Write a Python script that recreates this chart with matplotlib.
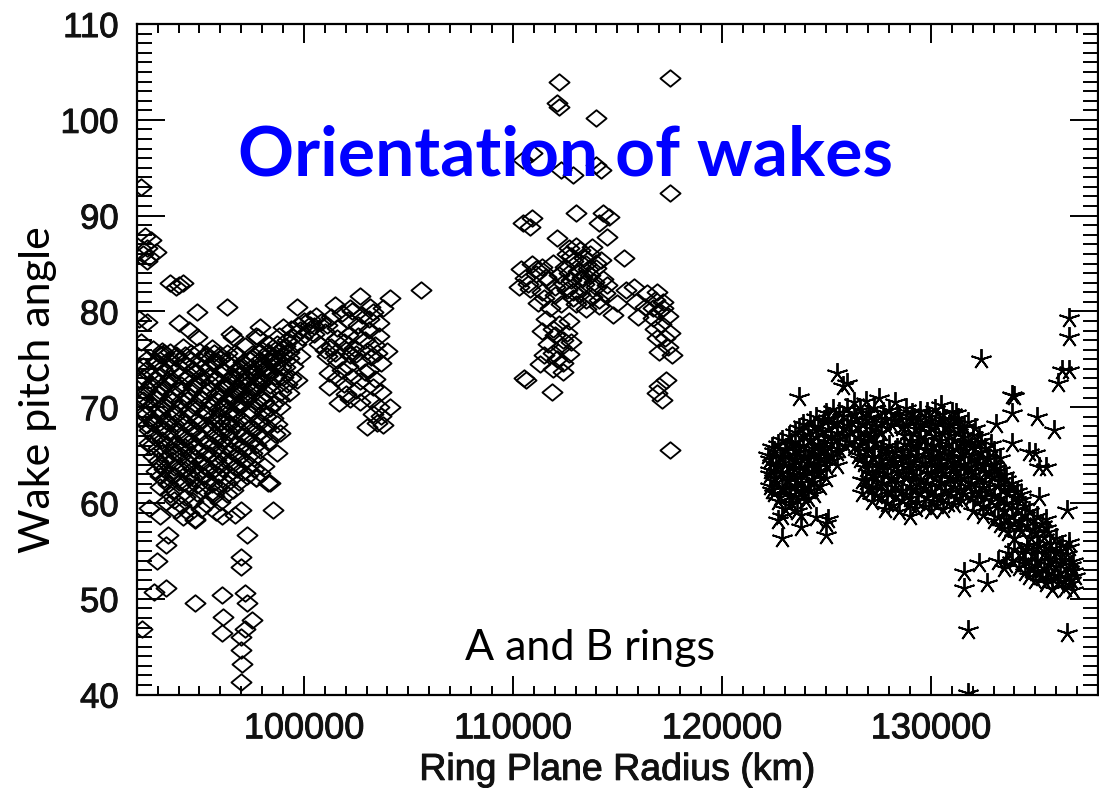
"""Wake pitch angle versus ring plane radius for the A and B rings."""
import numpy as np
import matplotlib
matplotlib.use("Agg")
import matplotlib.pyplot as plt
import matplotlib.patheffects as pe
from matplotlib.path import Path
from matplotlib.ticker import MultipleLocator, FixedLocator, FuncFormatter

# --- B ring (diamonds): (radius km, pitch angle deg) ---
b_ring_upper = [
    (92200, 93.0), (92400, 87.9), (92700, 87.5), (92500, 86.6), (92300, 86.0),
    (92600, 85.7), (92900, 86.2), (92500, 85.3), (93600, 83.0), (94000, 82.8),
    (94200, 83.0), (93900, 82.6), (92100, 79.2), (92500, 78.9), (94000, 78.8),
    (94500, 78.1), (94900, 77.3), (94900, 79.9), (96300, 80.5), (96600, 77.3),
    (96500, 77.6), (97900, 78.4), (97700, 77.4), (92200, 76.8), (93300, 75.7),
    (93200, 75.9), (94300, 75.4), (95700, 75.7), (105600, 82.2), (99660, 80.5),
]

b_ring_core = [
    (92800, 76.1), (93600, 75.8), (94200, 76.3), (95000, 75.9), (95600, 76.2),
    (96300, 75.7), (97200, 76.4), (98000, 76.0), (98700, 76.6),
    (92500, 75.0), (93100, 75.4), (93900, 75.1), (94600, 74.9), (95300, 75.3),
    (96000, 75.0), (96800, 75.4), (97500, 75.1), (98300, 75.4), (99000, 75.6),
    (92300, 74.3), (92900, 74.6), (93600, 74.2), (94300, 74.5), (95100, 74.1),
    (95700, 74.6), (96500, 74.3), (97200, 74.5), (97900, 74.2), (98600, 74.6),
    (92600, 73.5), (93300, 73.8), (94000, 73.4), (94800, 73.7), (95400, 73.3),
    (96200, 73.8), (96900, 73.5), (97600, 73.7), (98300, 73.4),
    (92200, 72.7), (92900, 72.9), (93700, 72.6), (94400, 73.0), (95100, 72.7),
    (95800, 72.9), (96600, 72.5), (97300, 72.9), (98000, 72.6), (98700, 72.9),
    (92500, 71.9), (93200, 72.2), (94000, 71.8), (94700, 72.1), (95500, 71.9),
    (96200, 72.2), (96900, 71.7), (97700, 72.0), (98400, 71.8),
    (92300, 71.1), (93000, 71.4), (93600, 71.0), (94400, 71.3), (95100, 71.0),
    (95800, 71.4), (96600, 71.1), (97300, 71.3), (98000, 71.0),
    (92600, 70.5), (93300, 70.2), (94100, 70.6), (94800, 70.3), (95500, 70.5),
    (96200, 70.2), (97000, 70.4), (97700, 70.6), (98500, 70.3),
    (92400, 69.5), (93000, 69.8), (93800, 69.4), (94500, 69.7), (95200, 69.5),
    (95900, 69.8), (96600, 69.4), (97400, 69.7), (98100, 69.5),
    (92700, 68.9), (93400, 68.6), (94100, 68.9), (94900, 68.7), (95600, 69.0),
    (96300, 68.6), (97000, 68.8), (97800, 68.6), (98500, 68.9),
    (92500, 68.1), (93100, 67.8), (93800, 68.2), (94600, 67.9), (95300, 68.1),
    (96000, 67.8), (96700, 68.2), (97400, 67.9), (98200, 68.0),
    (92800, 67.1), (93500, 67.4), (94200, 67.0), (94900, 67.3), (95700, 67.1),
    (96400, 67.4), (97100, 67.0), (97800, 67.3), (98600, 67.2),
    (92600, 66.3), (93200, 66.6), (93900, 66.2), (94600, 66.5), (95400, 66.3),
    (96100, 66.6), (96800, 66.2), (97500, 66.5), (98300, 66.4),
    (93000, 65.7), (93700, 65.4), (94300, 65.8), (95000, 65.5), (95800, 65.7),
    (96500, 65.4), (97200, 65.6), (97900, 65.5),
    (92800, 64.9), (93400, 64.6), (94100, 64.9), (94800, 64.7), (95500, 65.0),
    (96200, 64.6), (96900, 64.8), (97600, 64.7),
    (93100, 64.1), (93800, 63.8), (94500, 64.2), (95200, 63.9), (95900, 64.1),
    (96700, 63.8), (97400, 64.0), (98100, 63.9),
    (92900, 63.3), (93600, 63.0), (94300, 63.4), (95000, 63.1), (95600, 63.3),
    (96400, 63.0), (97100, 63.2), (97900, 63.1),
    (93300, 62.5), (94000, 62.2), (94700, 62.6), (95400, 62.3), (96100, 62.5),
    (96900, 62.2), (97700, 62.6), (98400, 62.1),
    (93100, 61.7), (93800, 61.4), (94500, 61.8), (95200, 61.5), (95900, 61.7),
    (96600, 61.4),
    (93600, 60.9), (94300, 60.6), (94900, 61.0), (95700, 60.7), (96300, 60.9),
    (93400, 60.1), (94100, 59.8), (94700, 60.2), (95300, 59.9), (96000, 60.1),
    (93900, 59.3), (94500, 59.0), (95100, 59.4), (95800, 59.1),
    (94200, 58.5), (94800, 58.3),
]

b_ring_core_fill = [
    (93200, 75.6), (93900, 75.5), (94600, 75.7), (95300, 75.6), (96000, 75.4),
    (96700, 75.7), (97500, 75.6), (98300, 75.8), (99000, 76.2),
    (92900, 74.8), (93500, 74.9), (94200, 74.7), (95000, 74.9), (95700, 74.8),
    (96400, 74.9), (97100, 74.7), (97900, 74.9), (98600, 75.0), (99300, 75.1),
    (92500, 74.0), (93200, 74.1), (93900, 73.9), (94700, 74.0), (95400, 74.1),
    (96100, 73.9), (96800, 74.0), (97500, 74.2), (98200, 74.0), (98900, 74.2),
    (92300, 73.2), (93000, 73.3), (93600, 73.1), (94400, 73.2), (95100, 73.3),
    (95800, 73.1), (96500, 73.2), (97200, 73.3), (97900, 73.1), (98600, 73.3),
    (92700, 72.4), (93400, 72.5), (94100, 72.3), (94800, 72.4), (95500, 72.5),
    (96300, 72.3), (97000, 72.4), (97700, 72.5), (98400, 72.3),
    (92400, 71.6), (93100, 71.7), (93800, 71.5), (94600, 71.6), (95300, 71.7),
    (96000, 71.5), (96700, 71.6), (97500, 71.7), (98200, 71.5),
    (92300, 70.8), (92900, 70.9), (93700, 70.7), (94400, 70.8), (95100, 70.9),
    (95900, 70.7), (96600, 70.8), (97300, 70.9), (98100, 70.7), (98800, 70.9),
    (92600, 70.0), (93300, 70.1), (94000, 69.9), (94800, 70.0), (95500, 70.1),
    (96200, 69.9), (96900, 70.0), (97700, 70.1), (98400, 69.9),
    (92400, 69.2), (93100, 69.3), (93800, 69.1), (94500, 69.2), (95300, 69.3),
    (96000, 69.1), (96700, 69.2), (97400, 69.3), (98200, 69.1),
    (92800, 68.4), (93500, 68.5), (94300, 68.3), (95000, 68.4), (95700, 68.5),
    (96400, 68.3), (97200, 68.4), (97900, 68.5), (98700, 68.3),
    (92600, 67.6), (93300, 67.7), (94000, 67.5), (94700, 67.6), (95500, 67.7),
    (96200, 67.5), (96900, 67.6), (97600, 67.7),
    (92900, 66.8), (93600, 66.9), (94300, 66.7), (95100, 66.8), (95800, 66.9),
    (96500, 66.7), (97300, 66.8), (98000, 66.9),
    (92700, 66.0), (93400, 66.1), (94100, 65.9), (94800, 66.0), (95600, 66.1),
    (96300, 65.9), (97000, 66.0), (97700, 66.1),
    (93200, 65.2), (93900, 65.3), (94600, 65.1), (95300, 65.2), (96000, 65.3),
    (96800, 65.1), (97500, 65.2),
    (93000, 64.4), (93700, 64.5), (94400, 64.3), (95100, 64.4), (95800, 64.5),
    (96500, 64.3), (97200, 64.4),
    (93300, 63.6), (94000, 63.7), (94700, 63.5), (95400, 63.6), (96100, 63.7),
    (96800, 63.5), (97600, 63.6),
    (93100, 62.8), (93800, 62.9), (94500, 62.7), (95200, 62.8), (95900, 62.9),
    (96600, 62.7), (97300, 62.8),
    (93500, 62.0), (94200, 62.1), (94900, 61.9), (95600, 62.0), (96300, 62.1),
]

b_ring_band = [
    (96000, 68.5), (96400, 69.5), (96800, 70.3), (97200, 71.0), (97500, 72.0),
    (97900, 72.6), (98200, 73.5), (98600, 74.3), (98900, 75.1), (99300, 75.8),
    (99600, 76.6), (99900, 77.3), (100200, 78.0), (100500, 78.5), (100000, 79.0),
    (99400, 78.2), (98800, 77.4), (98300, 76.6), (97900, 75.8), (97400, 74.9),
    (97000, 74.1), (96600, 73.3), (96200, 72.3), (99000, 78.4), (99700, 78.6),
    (98600, 76.0), (98000, 74.4), (97600, 73.6), (97100, 72.7), (96700, 71.8),
    (99200, 77.0), (98500, 75.3), (97800, 77.3), (98850, 70.0), (98850, 67.3),
    (98700, 65.2), (99000, 73.2), (99660, 72.8), (99300, 71.5), (99500, 74.3),
    (99800, 75.3), (96300, 70.8), (96900, 71.4), (97300, 72.3), (97700, 73.2),
    (98100, 74.0), (98400, 74.8), (98800, 75.8), (99100, 76.4), (99500, 77.3),
    (99800, 78.1), (100300, 79.2), (99100, 74.2), (99400, 73.1), (99200, 72.4),
    (98900, 71.6),
]

b_ring_lobe = [
    (100300, 78.6), (100800, 78.9), (101300, 79.4), (101800, 79.8), (102300, 80.0),
    (102800, 79.6), (103300, 79.9), (103800, 80.4), (102700, 81.6), (104100, 81.4),
    (101500, 80.7), (102200, 80.4), (103150, 80.5),
    (100500, 77.6), (101000, 77.9), (101600, 78.3), (102100, 77.5), (102600, 78.6),
    (103100, 78.1), (103600, 77.4),
    (100700, 76.6), (101300, 76.3), (101900, 76.8), (102400, 76.2), (102900, 77.0),
    (103400, 76.5), (104000, 75.9),
    (101100, 75.3), (101600, 74.9), (102200, 75.4), (102700, 74.8), (103200, 75.2),
    (103700, 74.6),
    (101200, 73.6), (101800, 73.9), (102300, 73.2), (102900, 73.7), (103400, 72.9),
    (101200, 72.1), (101900, 72.4), (102500, 71.8), (103300, 72.1), (103700, 71.6),
    (101700, 70.4), (102200, 70.9), (103200, 70.8), (103600, 70.0), (104100, 70.0),
    (103000, 67.9), (103800, 68.1), (103500, 68.4),
    (100600, 79.5), (101100, 78.6), (101600, 77.2), (102100, 79.1), (102600, 77.4),
    (103100, 79.2), (103600, 78.8), (101000, 76.0), (101500, 75.7), (102000, 76.0),
    (102500, 75.6), (103000, 75.9), (103500, 75.7), (101600, 73.0), (102100, 74.3),
    (102700, 72.7), (103100, 73.9), (102000, 71.4), (102700, 70.5), (103700, 69.1),
    (103300, 69.3),
]

b_ring_low = [
    (92600, 59.5), (93100, 58.6), (93800, 60.3), (94800, 58.2), (95700, 61.0),
    (96100, 58.6), (96700, 58.7), (97300, 56.7), (97000, 59.3), (97700, 62.6),
    (98300, 62.1), (98500, 59.3), (93500, 56.7), (93400, 55.6), (92950, 53.9),
    (97000, 54.4), (97000, 53.3), (92850, 50.7), (93400, 51.1), (94800, 49.6),
    (96100, 50.4), (97200, 50.6), (97300, 49.6), (96150, 48.1), (97500, 47.8),
    (92250, 46.9), (96100, 46.4), (97000, 46.0), (97000, 44.7), (97050, 43.2),
    (97000, 41.3), (97200, 46.9),
]

b_outer_high = [
    (112200, 103.9), (117500, 104.4), (112200, 101.3), (112100, 101.8),
    (114000, 100.2), (110900, 96.5), (110500, 95.8), (112300, 94.8),
    (112900, 94.2), (114000, 95.3), (114200, 94.8), (117500, 92.4),
    (110500, 89.2), (110900, 89.8), (110800, 88.8), (113000, 90.3),
    (114300, 90.3), (114600, 89.9), (114100, 89.2), (114500, 87.8),
    (112100, 87.7), (112700, 86.6), (115300, 85.6),
]

b_outer_core = [
    (112600, 86.0), (113200, 86.4), (113700, 86.0), (114200, 85.4), (112900, 85.3),
    (113500, 85.0), (114000, 84.5), (112500, 84.6), (113100, 84.2), (113700, 83.8),
    (114300, 83.4), (112800, 83.3), (113400, 82.9), (114000, 82.5), (112600, 82.2),
    (113200, 81.8), (113800, 81.5), (114400, 81.9), (113000, 80.8), (113500, 80.3),
    (114100, 80.6), (113300, 83.6), (112900, 82.0),
    (112800, 85.8), (113400, 85.6), (114000, 85.1), (112700, 84.0), (113300, 83.4),
    (113900, 83.1), (114500, 82.8), (112900, 81.4), (113500, 81.2), (114100, 81.2),
    (113600, 84.4), (112400, 83.0), (113800, 86.7), (113000, 86.8),
    (110400, 84.4), (110900, 84.9), (111400, 84.6), (111900, 85.1), (110600, 83.5),
    (111100, 83.9), (111700, 83.3), (112200, 83.8), (110300, 82.6), (110800, 82.3),
    (111400, 82.0), (112000, 81.7), (111200, 80.9), (111800, 80.4), (112300, 80.8),
    (111100, 84.4), (111600, 83.6), (110700, 82.9), (112000, 82.6), (111500, 81.4),
    (111600, 79.2), (112200, 78.7), (112700, 79.0), (111400, 78.0), (112000, 77.5),
    (112600, 77.8), (111700, 76.6), (112300, 76.3), (112800, 76.8), (111500, 75.4),
    (112100, 75.0), (112700, 75.6), (111900, 74.0), (112400, 73.7), (111300, 74.5),
    (111900, 78.2), (112400, 77.0), (111900, 75.7), (112400, 74.6),
    (110650, 72.8), (110550, 73.0), (111850, 71.6),
    (115000, 80.9), (115400, 82.2), (114800, 79.6),
    (116000, 79.4), (116400, 81.9), (115800, 82.6), (116300, 80.5), (116800, 81.2),
    (117200, 80.4), (116700, 79.3), (117100, 78.7), (117500, 77.8), (116900, 77.2),
    (117400, 76.3), (117000, 75.8), (117600, 75.5), (116900, 82.0), (117400, 79.5),
    (115900, 81.0), (116700, 80.4), (117000, 80.0), (117300, 77.2), (116800, 78.2),
    (117200, 81.0),
    (117350, 72.8), (116900, 71.5), (117150, 70.8), (117000, 72.2), (117500, 65.5),
]

# --- A ring (asterisks) ---
a_ring_main = [
    (125500, 73.6), (126000, 72.5), (125800, 72.2), (123700, 71.1), (127500, 71.0),
    (126300, 70.5), (126900, 70.6), (128300, 70.5), (130500, 70.2),
    (125300, 69.8), (126000, 69.9), (126600, 69.7), (127300, 69.9), (128000, 69.7),
    (128800, 69.9), (129500, 69.6), (130200, 69.8), (131000, 69.5),
    (124500, 69.0), (125100, 68.9), (125800, 69.1), (126400, 68.9), (127100, 69.0),
    (127800, 68.8), (128500, 69.1), (129200, 68.9), (129900, 69.0), (130600, 68.8),
    (131300, 68.9),
    (123900, 68.2), (124600, 68.0), (125300, 68.3), (126000, 68.1), (126700, 68.3),
    (127400, 68.0), (128100, 68.2), (128800, 68.0), (129500, 68.3), (130200, 68.1),
    (130900, 68.2), (131600, 67.9),
    (123500, 67.4), (124100, 67.2), (124800, 67.5), (125500, 67.3), (126200, 67.5),
    (126900, 67.2), (127600, 67.4), (129200, 67.3), (129900, 67.5), (130600, 67.2),
    (131300, 67.4), (132000, 67.1),
    (122900, 66.6), (123500, 66.4), (124200, 66.7), (124900, 66.5), (125500, 66.7),
    (126100, 66.4), (126800, 66.6), (127400, 66.4), (129000, 66.5), (129700, 66.7),
    (130400, 66.5), (131100, 66.6), (131800, 66.3), (132400, 66.5),
    (122400, 65.8), (123000, 65.6), (123700, 65.9), (124300, 65.7), (124900, 65.9),
    (125600, 65.6), (126300, 65.8), (127000, 65.6), (127700, 65.9), (128400, 65.7),
    (129100, 65.9), (129800, 65.6), (130500, 65.8), (131200, 65.6), (131900, 65.9),
    (132600, 65.7),
    (122200, 65.0), (122800, 64.8), (123400, 65.1), (124000, 64.9), (124600, 65.1),
    (125200, 64.8), (126500, 65.0), (127200, 64.8), (127900, 65.1), (128600, 64.9),
    (129300, 65.0), (130000, 64.8), (130700, 65.1), (131400, 64.9), (132000, 65.0),
    (132700, 64.8),
    (122400, 64.2), (123000, 64.0), (123600, 64.3), (124200, 64.1), (124900, 64.3),
    (125500, 64.0), (126800, 64.2), (127500, 64.0), (128200, 64.3), (128900, 64.1),
    (129600, 64.2), (130300, 64.0), (131000, 64.3), (131600, 64.1), (132300, 64.2),
    (133000, 64.0),
    (122300, 63.4), (122900, 63.2), (123500, 63.5), (124100, 63.3), (124700, 63.4),
    (127000, 63.2), (127700, 63.5), (128400, 63.3), (129100, 63.4), (129800, 63.2),
    (130500, 63.5), (131200, 63.3), (131900, 63.4), (132600, 63.2), (133300, 63.4),
    (122500, 62.6), (123100, 62.4), (123700, 62.7), (124300, 62.5), (125000, 62.6),
    (126700, 62.4), (127400, 62.7), (128100, 62.5), (128800, 62.6), (129500, 62.4),
    (130200, 62.7), (130900, 62.5), (131600, 62.6), (132300, 62.4), (133000, 62.7),
    (133600, 62.5),
    (122300, 61.8), (122900, 61.6), (123500, 61.9), (124100, 61.7), (124700, 61.8),
    (127000, 61.6), (127600, 61.9), (128300, 61.7), (129000, 61.8), (129700, 61.6),
    (130400, 61.9), (131100, 61.7), (131800, 61.8), (132500, 61.6), (133200, 61.9),
    (133900, 61.7),
    (122500, 61.0), (123200, 60.8), (123800, 61.1), (124400, 60.9), (126700, 61.0),
    (127400, 60.8), (128100, 61.1), (128800, 60.9), (129500, 61.0), (130200, 60.8),
    (130900, 61.1), (131600, 60.9), (132300, 61.0), (133000, 60.8), (133700, 61.1),
    (134300, 60.9),
    (122700, 60.2), (123300, 60.0), (124000, 60.3), (127200, 60.2), (127900, 60.0),
    (128600, 60.3), (129400, 60.1), (130100, 60.2), (130800, 60.0), (131500, 60.3),
    (132200, 60.1), (132900, 60.2), (133600, 60.0), (134300, 60.3),
    (123000, 59.4), (123600, 59.2), (127800, 59.4), (128500, 59.2), (129300, 59.5),
    (130000, 59.3), (130600, 59.4), (132000, 59.2), (132800, 59.5), (133500, 59.3),
    (134100, 59.4), (134700, 59.2),
    (122900, 58.6), (123800, 58.7), (124500, 58.5), (129000, 58.6), (132500, 58.7),
    (133200, 58.5), (133900, 58.6), (134500, 58.8), (135100, 58.6),
    (122700, 58.2), (123800, 57.5), (125000, 57.9), (125100, 58.3), (133300, 57.8),
    (134000, 57.9), (134600, 57.7), (135300, 57.8),
    (133700, 57.0), (134300, 57.1), (135000, 56.9), (135600, 57.0),
    (122900, 56.4), (125000, 56.7), (134000, 56.4), (134800, 56.3), (135400, 56.5),
    (136000, 56.3),
]

a_ring_fill = [
    (125000, 69.4), (125600, 69.5), (126300, 69.3), (127000, 69.4), (127700, 69.5),
    (128400, 69.3), (129100, 69.4), (129800, 69.5), (130600, 69.3), (131200, 69.4),
    (124200, 68.6), (124900, 68.7), (125500, 68.5), (126200, 68.6), (126900, 68.7),
    (127600, 68.5), (128300, 68.6), (129000, 68.7), (129700, 68.5), (130400, 68.6),
    (131100, 68.7), (131800, 68.5),
    (123700, 67.8), (124400, 67.9), (125100, 67.7), (125800, 67.8), (126500, 67.9),
    (127200, 67.7), (127900, 67.8), (128600, 67.9), (129300, 67.7), (130000, 67.8),
    (130700, 67.9), (131400, 67.7), (132100, 67.8),
    (123200, 67.0), (123900, 67.1), (124500, 66.9), (125200, 67.0), (125800, 67.1),
    (126500, 66.9), (127100, 67.0), (128700, 67.1), (129500, 66.9), (130200, 67.0),
    (130900, 67.1), (131600, 66.9), (132300, 67.0),
    (122700, 66.2), (123300, 66.3), (123900, 66.1), (124600, 66.2), (125200, 66.3),
    (125900, 66.1), (126600, 66.2), (127300, 66.3), (128000, 66.1), (128700, 66.2),
    (129400, 66.3), (130100, 66.1), (130800, 66.2), (131500, 66.3), (132200, 66.1),
    (132900, 66.2),
    (122500, 65.4), (123100, 65.5), (123700, 65.3), (124300, 65.4), (124900, 65.5),
    (125500, 65.3), (126900, 65.4), (127600, 65.5), (128300, 65.3), (129000, 65.4),
    (129700, 65.5), (130400, 65.3), (131000, 65.4), (131700, 65.5), (132400, 65.3),
    (133000, 65.4),
    (122300, 64.6), (122900, 64.7), (123500, 64.5), (124100, 64.6), (124700, 64.7),
    (125300, 64.5), (126600, 64.6), (127300, 64.7), (128000, 64.5), (128700, 64.6),
    (129400, 64.7), (130100, 64.5), (130800, 64.6), (131500, 64.7), (132200, 64.5),
    (132800, 64.6), (133300, 64.7),
    (122600, 63.8), (123200, 63.9), (123800, 63.7), (124400, 63.8), (125000, 63.9),
    (126900, 63.7), (127600, 63.8), (128300, 63.9), (129000, 63.7), (129700, 63.8),
    (130400, 63.9), (131100, 63.7), (131800, 63.8), (132500, 63.9), (133100, 63.7),
    (122300, 63.0), (122800, 63.1), (123400, 62.9), (124000, 63.0), (124600, 63.1),
    (127200, 62.9), (127900, 63.0), (128600, 63.1), (129300, 62.9), (130000, 63.0),
    (130700, 63.1), (131400, 62.9), (132100, 63.0), (132800, 63.1), (133500, 62.9),
    (122600, 62.2), (123200, 62.3), (123800, 62.1), (124400, 62.2), (126900, 62.3),
    (127700, 62.1), (128400, 62.2), (129100, 62.3), (129800, 62.1), (130500, 62.2),
    (131200, 62.3), (131900, 62.1), (132600, 62.2), (133300, 62.3), (133900, 62.1),
    (122400, 61.4), (123000, 61.5), (123600, 61.3), (124200, 61.4), (127200, 61.5),
    (127900, 61.3), (128600, 61.4), (129300, 61.5), (130000, 61.3), (130700, 61.4),
    (131400, 61.5), (132100, 61.3), (132800, 61.4), (133500, 61.5), (134100, 61.3),
    (122800, 60.6), (123500, 60.7), (124100, 60.5), (127600, 60.6), (128300, 60.7),
    (129000, 60.5), (129800, 60.6), (130500, 60.7), (131200, 60.5), (131900, 60.6),
    (132600, 60.7), (133300, 60.5), (134000, 60.6),
    (123200, 59.8), (128200, 59.8), (129000, 59.9), (129700, 59.7), (130300, 59.8),
    (131100, 59.9), (132500, 59.7), (133200, 59.8), (133900, 59.9), (134500, 59.7),
    (133000, 58.2), (133600, 58.3), (134300, 58.1), (134900, 58.2), (135500, 58.3),
    (133500, 57.4), (134200, 57.5), (134900, 57.3), (135500, 57.4),
]

a_ring_tail = [
    (134600, 55.6), (135200, 55.5), (135700, 55.7), (136300, 55.6), (136600, 55.4),
    (133700, 54.8), (134300, 54.9), (134900, 54.7), (135400, 54.8), (136000, 54.9),
    (136500, 54.7),
    (132300, 53.7), (133200, 54.0), (133900, 54.1), (134500, 53.9), (135100, 54.0),
    (135700, 53.9), (136300, 54.1), (136800, 53.9),
    (131600, 52.8), (133500, 53.2), (134200, 53.3), (134800, 53.1), (135400, 53.2),
    (136000, 53.3), (136600, 53.1),
    (134700, 52.4), (135300, 52.3), (135900, 52.5), (136500, 52.3), (136900, 52.4),
    (131600, 51.1), (132700, 51.6), (135500, 51.6), (136100, 51.7), (136600, 51.5),
    (135800, 51.0), (136400, 51.1), (136800, 50.9),
    (134000, 55.2), (134600, 55.1), (135100, 55.3), (135700, 55.2), (136200, 55.1),
    (133600, 53.6), (134400, 53.7), (135000, 53.5), (135600, 53.6), (136200, 53.7),
    (136700, 53.5), (134500, 52.8), (135100, 52.9), (135600, 52.7), (136200, 52.8),
    (136800, 52.9), (135000, 52.0), (135600, 52.1), (136200, 51.9), (136700, 52.0),
]

a_ring_outliers = [
    (131800, 46.7), (136500, 46.4), (131800, 40.2), (136500, 59.3), (136600, 55.9),
    (135200, 60.6), (135900, 67.6), (134700, 65.3), (135200, 63.8), (132400, 75.0),
    (133900, 71.3), (136600, 73.9), (136100, 72.5), (136300, 73.9), (136600, 79.3),
    (136600, 77.3), (134000, 71.2), (133900, 69.4), (133100, 68.2), (135100, 69.0),
    (133900, 66.3), (135000, 65.2), (135500, 63.8),
]

x_major = [100000, 110000, 120000, 130000]
y_major = [40, 50, 60, 70, 80, 90, 100, 110]

INK = "#000000"
# slightly heavier axis lettering
HEAVY = [pe.withStroke(linewidth=0.7, foreground="#111111")]


def main():
    plt.rcParams["font.family"] = ["Liberation Sans", "DejaVu Sans"]

    fig = plt.figure(figsize=(10.99, 7.88), dpi=100)
    ax = fig.add_axes([0.1244, 0.1185, 0.8747, 0.8510])

    # IDL-style diamond, a little wider than tall
    diamond = Path([(0, 0.82), (1, 0), (0, -0.82), (-1, 0), (0, 0.82)],
                   [Path.MOVETO, Path.LINETO, Path.LINETO, Path.LINETO, Path.CLOSEPOLY])

    b_pts = np.array(b_ring_upper + b_ring_core + b_ring_core_fill + b_ring_band
                     + b_ring_lobe + b_ring_low + b_outer_high + b_outer_core,
                     dtype=float)
    a_pts = np.array(a_ring_main + a_ring_fill + a_ring_tail + a_ring_outliers,
                     dtype=float)

    ax.plot(b_pts[:, 0], b_pts[:, 1], ls="none", marker=diamond, ms=14.5,
            mfc="none", mec=INK, mew=1.35)
    ax.plot(a_pts[:, 0], a_pts[:, 1], ls="none", marker=(5, 2, 0), ms=15,
            mec=INK, mew=1.35)

    ax.set_xlim(92000, 138000)
    ax.set_ylim(40, 110)
    ax.xaxis.set_major_locator(FixedLocator(x_major))
    ax.xaxis.set_minor_locator(MultipleLocator(1000))
    ax.yaxis.set_major_locator(FixedLocator(y_major))
    ax.yaxis.set_minor_locator(MultipleLocator(1))
    ax.xaxis.set_major_formatter(FuncFormatter(lambda v, p: f"{int(v)}"))

    ax.tick_params(which="both", direction="in", top=True, right=True,
                   width=1.4, color=INK, labelcolor="#111111")
    ax.tick_params(axis="x", which="major", length=13.5, labelsize=26, pad=12)
    ax.tick_params(axis="x", which="minor", length=6.5)
    ax.tick_params(axis="y", which="major", length=20, labelsize=25, pad=13)
    ax.tick_params(axis="y", which="minor", length=10.5)
    for s in ax.spines.values():
        s.set_linewidth(1.6)
        s.set_color(INK)

    xl = ax.set_xlabel("Ring Plane Radius (km)", fontsize=27, color="#111111",
                       labelpad=4)
    xl.set_path_effects(HEAVY)
    for lbl in ax.get_xticklabels() + ax.get_yticklabels():
        lbl.set_path_effects(HEAVY)

    fig.text(38 / 1099, 1 - 390 / 788, "Wake pitch angle", family="Lato",
             fontsize=31, rotation=90, ha="center", va="center", color="black")
    fig.text(566 / 1099, 1 - 175 / 788, "Orientation of wakes", family="Lato",
             fontweight="bold", fontsize=50, ha="center", va="baseline",
             color="#0000FF", zorder=10)
    fig.text(590 / 1099, 1 - 660 / 788, "A and B rings", family="Lato",
             fontsize=31, ha="center", va="baseline", color="black")

    fig.savefig("out.png", dpi=100)


if __name__ == "__main__":
    main()
